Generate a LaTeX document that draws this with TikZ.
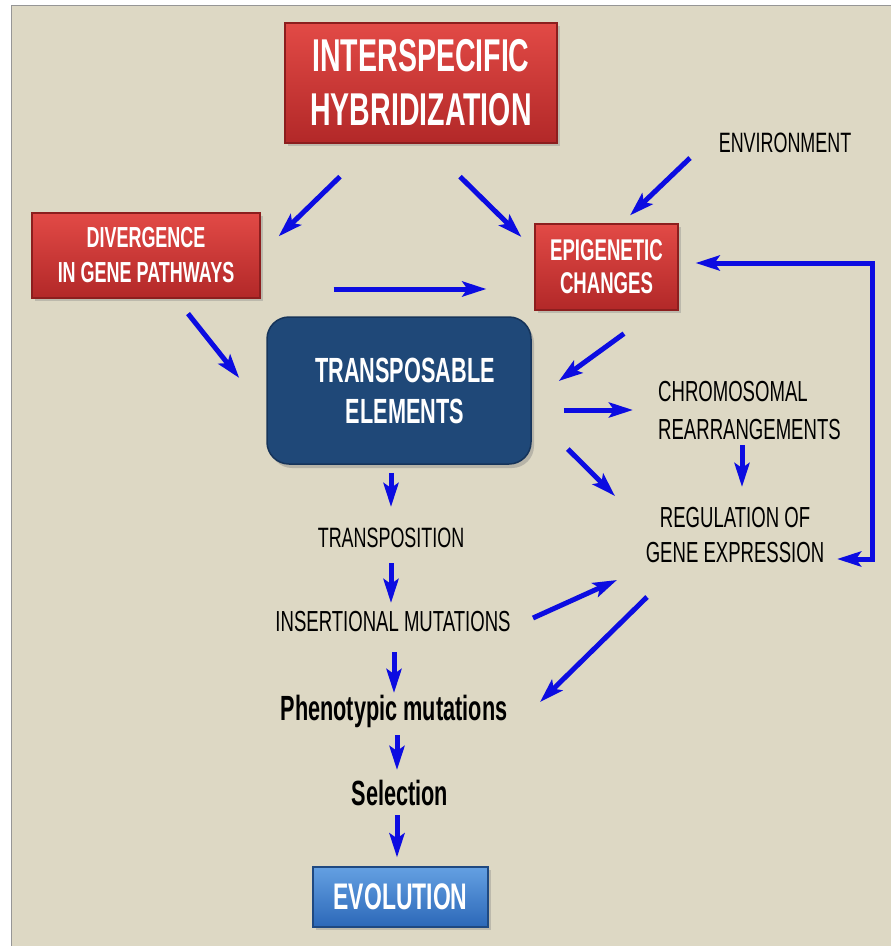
\documentclass[tikz,border=0pt]{standalone}
\usepackage{fontspec}
\usetikzlibrary{arrows.meta,shadows}
\newfontfamily\agb{Liberation Sans Bold}[FakeStretch=0.62]
\newfontfamily\agr{Liberation Sans}[FakeStretch=0.64]
\definecolor{bgc}{RGB}{221,216,196}
\definecolor{edgegrey}{RGB}{150,150,150}
\definecolor{redtop}{RGB}{226,74,70}
\definecolor{redbot}{RGB}{178,40,40}
\definecolor{rededge}{RGB}{140,30,30}
\definecolor{navy}{RGB}{31,72,120}
\definecolor{navyedge}{RGB}{22,52,90}
\definecolor{evotop}{RGB}{100,160,226}
\definecolor{evobot}{RGB}{44,104,184}
\definecolor{arrblue}{RGB}{12,12,225}
\tikzset{
  redbox/.style={rectangle, inner sep=0pt, top color=redtop, bottom color=redbot,
    draw=rededge, line width=1.2pt, text=white, align=center,
    drop shadow={shadow xshift=3pt, shadow yshift=-3pt, opacity=0.35}},
  tebox/.style={rectangle, rounded corners=22pt, inner sep=0pt, fill=navy,
    draw=navyedge, line width=1.5pt, text=white, align=center,
    drop shadow={shadow xshift=3pt, shadow yshift=-4pt, opacity=0.4}},
  evobox/.style={rectangle, inner sep=0pt, top color=evotop, bottom color=evobot,
    draw=evobot!70!black, line width=1.2pt, text=white, align=center,
    drop shadow={shadow xshift=3pt, shadow yshift=-3pt, opacity=0.35}},
  plain/.style={inner sep=0pt, text=black, align=center},
  arr/.style={draw=arrblue, line width=5pt, -{Stealth[length=24pt,width=15pt,inset=5pt]}},
  arrboth/.style={draw=arrblue, line width=5pt,
    {Stealth[length=24pt,width=15pt,inset=5pt]}-{Stealth[length=24pt,width=15pt,inset=5pt]}}
}
\begin{document}
\begin{tikzpicture}[x=1pt,y=-1pt]
\useasboundingbox (0,0) rectangle (891,946);
\fill[white] (0,0) rectangle (891,946);
\fill[bgc] (11,5) rectangle (891,946);
\draw[edgegrey, line width=1.5pt] (11.5,946) -- (11.5,5.5) -- (891,5.5);

% boxes
\node[redbox, minimum width=272pt, minimum height=120pt,
  font=\agb\fontsize{46}{54}\selectfont] (hyb) at (421,83)
  {INTERSPECIFIC\\HYBRIDIZATION};
\node[redbox, minimum width=228pt, minimum height=85pt,
  font=\agb\fontsize{29}{35}\selectfont] (div) at (146,255.5)
  {DIVERGENCE\\IN GENE PATHWAYS};
\node[redbox, minimum width=143pt, minimum height=86pt,
  font=\agb\fontsize{30}{33}\selectfont] (epi) at (606.5,267)
  {EPIGENETIC\\CHANGES};
\node[tebox, minimum width=264pt, minimum height=147pt,
  font=\agb\fontsize{35}{41}\selectfont] (te) at (399,390.5)
  {\hspace*{12pt}TRANSPOSABLE\\\hspace*{12pt}ELEMENTS};
\node[evobox, minimum width=175pt, minimum height=60pt,
  font=\agb\fontsize{37}{44}\selectfont] (evo) at (400.5,897)
  {EVOLUTION};

% plain texts
\node[plain, font=\agr\fontsize{28}{32}\selectfont] (env) at (785,143) {ENVIRONMENT};
\node[plain, align=left, anchor=west, font=\agr\fontsize{29}{38}\selectfont] (chrom) at (658,411)
  {CHROMOSOMAL\\REARRANGEMENTS};
\node[plain, font=\agr\fontsize{29}{35}\selectfont] (reg) at (735,535)
  {REGULATION OF\\GENE EXPRESSION};
\node[plain, font=\agr\fontsize{28}{32}\selectfont] (trans) at (391,538) {TRANSPOSITION};
\node[plain, font=\agr\fontsize{29}{33}\selectfont] (ins) at (393,622) {INSERTIONAL MUTATIONS};
\node[plain, anchor=base, font=\agb\fontsize{35}{40}\selectfont] (pheno) at (394,720) {Phenotypic mutations};
\node[plain, anchor=base, font=\agb\fontsize{35}{40}\selectfont] (sel) at (400,805) {Selection};

% arrows
\draw[arr] ([shift={(-81,33)}]hyb.south) -- ([shift={(18,24)}]div.north east);
\draw[arr] ([shift={(39,33)}]hyb.south) -- ([shift={(-13,-30)}]epi.west);
\draw[arr] ([shift={(-95,15)}]env.center) -- ([shift={(23.5,-8)}]epi.north);
\draw[arr] ([shift={(42,15)}]div.south) -- ([shift={(-27,-12.5)}]te.west);
\draw[arr] ([shift={(73,33.5)}]div.east) -- ([shift={(-48,22)}]epi.west);
\draw[arr] ([shift={(17.5,23)}]epi.south) -- ([shift={(27,-9.5)}]te.east);
\draw[arr] ([shift={(32,19.5)}]te.east) -- ([shift={(-25,-1)}]chrom.west);
\draw[arr] ([shift={(36,58.5)}]te.east) -- ([shift={(-120,-39)}]reg.center);
\draw[arr] ([shift={(84,34)}]chrom.west) -- ([shift={(7,-48)}]reg.center);
\draw[arrboth] ([shift={(17,-4)}]epi.east) -- ++(177,0) |- ([shift={(102,24)}]reg.center);
\draw[arr] ([shift={(-8,8)}]te.south) -- ([shift={(0,-31)}]trans.center);
\draw[arr] ([shift={(0,25)}]trans.center) -- ([shift={(-2,-19)}]ins.center);
\draw[arr] ([shift={(1,30)}]ins.center) -- ([shift={(0,-27)}]pheno.base);
\draw[arr] ([shift={(3,15)}]pheno.base) -- ([shift={(-3,-35)}]sel.base);
\draw[arr] ([shift={(-3,10)}]sel.base) -- ([shift={(-3.5,-9)}]evo.north);
\draw[arr] ([shift={(140,-4)}]ins.center) -- ([shift={(-118,45)}]reg.center);
\draw[arr] ([shift={(-88,62)}]reg.center) -- ([shift={(146,-18)}]pheno.base);
\end{tikzpicture}
\end{document}
